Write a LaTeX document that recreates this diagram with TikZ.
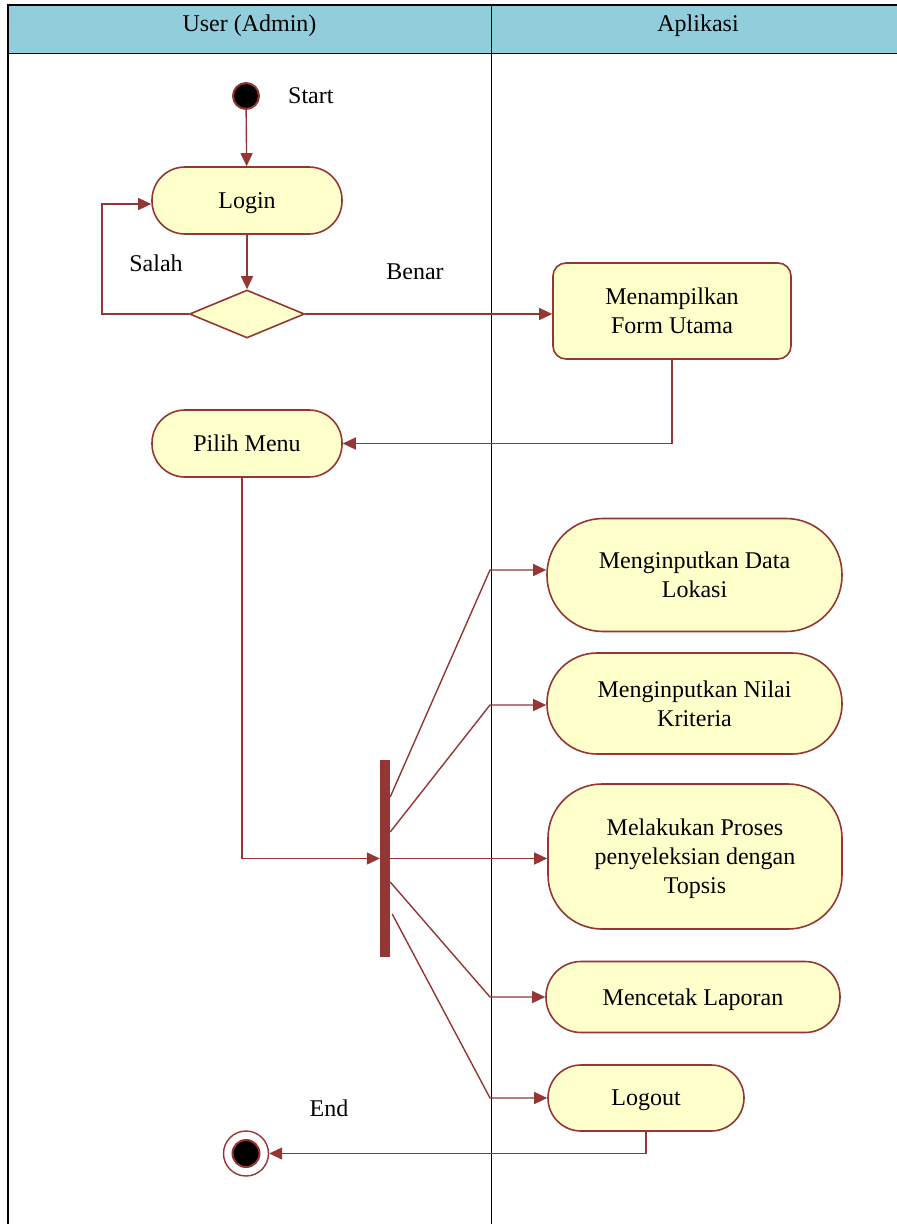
\documentclass[tikz,border=0pt]{standalone}
\usepackage{fontspec}
\setmainfont{Liberation Serif}
\usetikzlibrary{positioning,arrows.meta,calc,shapes.geometric}
\definecolor{umlRed}{HTML}{943634}
\definecolor{umlYellow}{HTML}{FFFFCC}
\definecolor{laneBlue}{HTML}{92CDDC}
\newcommand{\diagfont}{\fontsize{24}{29}\selectfont}
\tikzset{
    activity/.style={draw=umlRed,fill=umlYellow,line width=1.6pt,rounded corners=#1,
        inner sep=0pt,align=center,font=\diagfont},
    decision/.style={diamond,draw=umlRed,fill=umlYellow,line width=1.6pt,inner sep=0pt,
        minimum width=115pt,minimum height=48pt},
    forkbar/.style={fill=umlRed,minimum width=10pt,minimum height=197pt,inner sep=0pt},
    startdot/.style={circle,fill=black,draw=umlRed,line width=2pt,inner sep=0pt},
    arrow/.style={-{Triangle[length=13pt,width=12pt]},draw=umlRed,line width=1.4pt},
    flowlabel/.style={font=\diagfont,inner sep=0pt},
    lane/.style={draw=black,line width=0.9pt}
}

\begin{document}
\begin{tikzpicture}[x=1pt,y=-1pt]
    \useasboundingbox (0,0) rectangle (897,1224);
    % swimlanes
    \fill[laneBlue] (8,5) rectangle (905,53);
    \draw[lane] (8,53) -- (905,53);
    \draw[lane] (491,5) -- (491,1224);
    \draw[lane,line width=2pt] (8,1224) -- (8,5) -- (905,5);
    \node[flowlabel,anchor=base] (userLane) at (249.5,31) {User (Admin)};
    \node[flowlabel,anchor=base] (appLane) at (698,31) {Aplikasi};

    % nodes
    \node[startdot,minimum size=26pt] (init) at (246,96) {};
    \node[flowlabel] (startText) [right=28pt of init] {Start};
    \node[activity=33pt,minimum width=190pt,minimum height=67pt,text depth=0pt] (login) at (247,200.5) {Login};
    \node[decision] (check) at (247,314) {};
    \node[activity=13pt,minimum width=238pt,minimum height=96pt] (form) at (672,311) {Menampilkan\\Form Utama};
    \node[activity=33pt,minimum width=190pt,minimum height=67pt] (pilih) at (247,443.5) {Pilih Menu};
    \node[forkbar] (fork) at (385,858.5) {};
    \node[activity=56pt,minimum width=295pt,minimum height=113pt] (dataLokasi) at (694.5,575) {Menginputkan Data\\Lokasi};
    \node[activity=50pt,minimum width=295pt,minimum height=101pt,text depth=-3pt] (nilai) at (694.5,703.5) {Menginputkan Nilai\\Kriteria};
    \node[activity=54pt,minimum width=294pt,minimum height=145pt,text depth=-7pt] (proses) at (695,856.5) {Melakukan Proses\\penyeleksian dengan\\Topsis};
    \node[activity=35pt,minimum width=294pt,minimum height=71pt,text depth=0pt] (laporan) at (693,997) {Mencetak Laporan};
    \node[activity=33pt,minimum width=196pt,minimum height=66pt,text depth=0pt] (logout) at (646,1098) {Logout};
    \node[circle,draw=umlRed,fill=white,line width=1.4pt,minimum size=45pt] (final) at (246,1153.5) {};
    \node[startdot,minimum size=27pt] (finalDot) at (final) {};
    \node[flowlabel,anchor=base] (endText) at (329,1116) {End};
    \node[flowlabel,anchor=base] (salahText) at (156,271) {Salah};
    \node[flowlabel,anchor=base] (benarText) at (415,279) {Benar};

    % bends
    \coordinate (salahTurn) at (102,204);
    \coordinate (b1) at (490,570);
    \coordinate (b2) at (490,705);
    \coordinate (b4) at (490,997);
    \coordinate (b5) at (490,1098);

    % connectors
    \draw[arrow] (init) -- (login);
    \draw[arrow] (login) -- (check);
    \draw[arrow] (check.west) -| (salahTurn) -- (salahTurn -| login.west);
    \draw[arrow] (check.east) -- (check.east -| form.west);
    \draw[arrow] (form.south) |- (pilih.east);
    \draw[arrow] ([xshift=-5pt]pilih.south) |- (fork.west);
    \draw[arrow] ([yshift=61.5pt]fork.east) -- (b1) -- (b1 -| dataLokasi.west);
    \draw[arrow] ([yshift=26.5pt]fork.east) -- (b2) -- (b2 -| nilai.west);
    \draw[arrow] (fork.east) -- (fork.east -| proses.west);
    \draw[arrow] ([yshift=-23.5pt]fork.east) -- (b4) -- (b4 -| laporan.west);
    \draw[arrow] ([xshift=2pt,yshift=-55.5pt]fork.east) -- (b5) -- (b5 -| logout.west);
    \draw[arrow] (logout.south) |- (final.east);
\end{tikzpicture}
\end{document}
